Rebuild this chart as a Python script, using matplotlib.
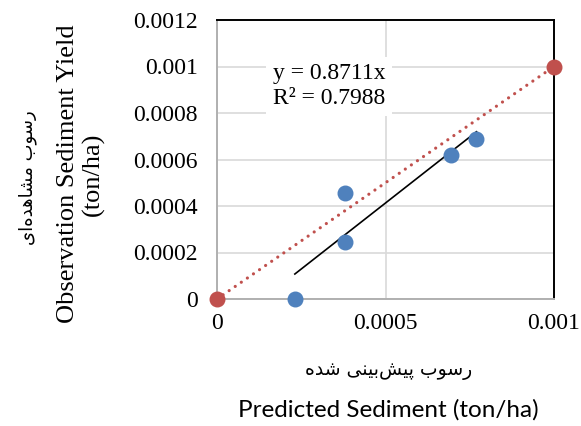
#!/usr/bin/env python3

import numpy as np
import matplotlib
matplotlib.use('Agg')
import matplotlib.pyplot as plt

# observed vs predicted sediment (ton/ha)
pred = [0.000231, 0.00038, 0.00038, 0.000693, 0.00077]
obs = [0.0, 0.000458, 0.000246, 0.00062, 0.000688]

# 1:1 reference line end points
ref_x = [0.0, 0.001]
ref_y = [0.0, 0.001]

x_ticks = [0.0, 0.0005, 0.001]
x_tick_labels = ['0', '0.0005', '0.001']
y_ticks = [0.0, 0.0002, 0.0004, 0.0006, 0.0008, 0.001, 0.0012]
y_tick_labels = ['0', '0.0002', '0.0004', '0.0006', '0.0008', '0.001', '0.0012']

eq_text = 'y = 0.8711x\nR\u00b2 = 0.7988'

# Persian labels written with presentation forms, reversed for LTR drawing
fa_ylabel = '\uFEAD\uFEB3\uFEEE\uFE8F \uFEE3\uFEB8\uFE8E\uFEEB\uFEAA\uFEE9\uFE8D\uFBFC'[::-1]
fa_xlabel = '\uFEAD\uFEB3\uFEEE\uFE8F \uFB58\uFBFF\uFEB6\uFE91\uFBFF\uFEE8\uFBFD \uFEB7\uFEAA\uFEE9'[::-1]
en_ylabel = 'Observation Sediment Yield\n(ton/ha)'
en_xlabel = 'Predicted Sediment (ton/ha)'

BLUE = '#4F81BD'
RED = '#C0504D'
SERIF = 'Liberation Serif'

W, H = 581, 426
fig = plt.figure(figsize=(W / 100, H / 100), dpi=100)
ax = fig.add_axes([217 / W, 1 - 299 / H, 337 / W, 279 / H])

# trendline through the blue points
k, b = np.polyfit(pred, obs, 1)
tx = np.array([min(pred), max(pred)])
ax.plot(tx, k * tx + b, color='black', lw=1.2, zorder=3)

ax.plot(ref_x, ref_y, color=RED, lw=2.3, linestyle=(0, (0.01, 2.3)),
        dash_capstyle='round', zorder=3)
ax.scatter(pred, obs, s=110, color=BLUE, zorder=4, clip_on=False)
ax.scatter(ref_x, ref_y, s=110, color=RED, zorder=4, clip_on=False)

ax.set_xlim(0, 0.001)
ax.set_ylim(0, 0.0012)
ax.set_xticks(x_ticks)
ax.set_xticklabels(x_tick_labels, fontfamily=SERIF, fontsize=17)
ax.set_yticks(y_ticks)
ax.set_yticklabels(y_tick_labels, fontfamily=SERIF, fontsize=17)
ax.tick_params(axis='both', length=0)
ax.tick_params(axis='x', pad=10)
ax.tick_params(axis='y', pad=14)
ax.grid(color='#D9D9D9', lw=1.2)
ax.set_axisbelow(True)

for s in ['top', 'right']:
    ax.spines[s].set_color('black')
    ax.spines[s].set_linewidth(1.4)
for s in ['left', 'bottom']:
    ax.spines[s].set_color('#B0B0B0')
    ax.spines[s].set_linewidth(1.4)

ax.text(0.166, 0.762, eq_text, transform=ax.transAxes, fontfamily=SERIF,
        fontsize=17, ha='left', va='center', linespacing=1.25,
        bbox=dict(facecolor='white', edgecolor='none', pad=5), zorder=5)

# axis titles
fig.text(81 / W, 1 - 174 / H, en_ylabel, rotation=90, fontfamily=SERIF,
         fontsize=19, ha='center', va='center', multialignment='center',
         linespacing=1.12)
fig.text(28 / W, 1 - 178 / H, fa_ylabel, rotation=90, fontfamily='DejaVu Sans',
         fontsize=13, ha='center', va='center')
fig.text(389 / W, 1 - 371 / H, fa_xlabel, fontfamily='DejaVu Sans',
         fontsize=13.5, ha='center', va='center')
fig.text(388 / W, 1 - 410 / H, en_xlabel, fontfamily='Lato',
         fontsize=17.5, ha='center', va='center')

fig.savefig('out.png', dpi=100)
